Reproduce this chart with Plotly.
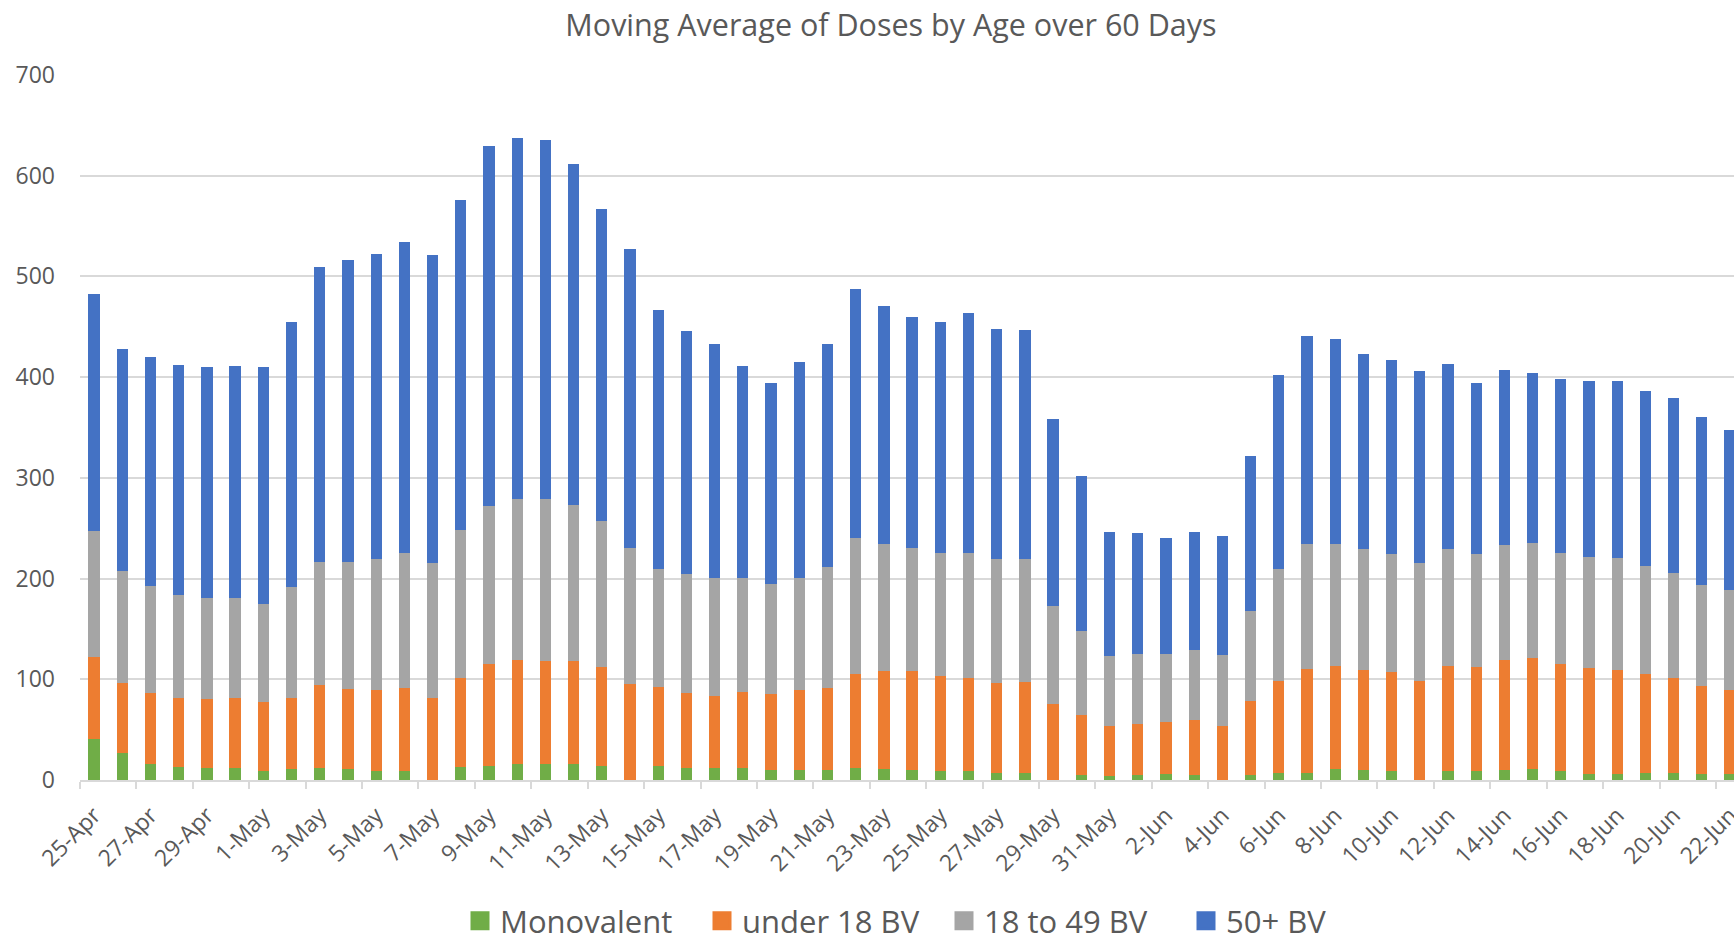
import plotly.graph_objects as go

dates = ["25-Apr", "26-Apr", "27-Apr", "28-Apr", "29-Apr", "30-Apr",
         "1-May", "2-May", "3-May", "4-May", "5-May", "6-May", "7-May", "8-May", "9-May", "10-May",
         "11-May", "12-May", "13-May", "14-May", "15-May", "16-May", "17-May", "18-May", "19-May",
         "20-May", "21-May", "22-May", "23-May", "24-May", "25-May", "26-May", "27-May", "28-May",
         "29-May", "30-May", "31-May",
         "1-Jun", "2-Jun", "3-Jun", "4-Jun", "5-Jun", "6-Jun", "7-Jun", "8-Jun", "9-Jun", "10-Jun",
         "11-Jun", "12-Jun", "13-Jun", "14-Jun", "15-Jun", "16-Jun", "17-Jun", "18-Jun", "19-Jun",
         "20-Jun", "21-Jun", "22-Jun"]

monovalent = [41, 27, 16, 13, 12, 12, 9, 11, 12, 11, 9, 9, 0, 13, 14, 16, 16, 16, 14, 0,
              14, 12, 12, 12, 10, 10, 10, 12, 11, 10, 9, 9, 7, 7, 0, 5, 4, 5, 6, 5,
              0, 5, 7, 7, 11, 10, 9, 0, 9, 9, 10, 11, 9, 6, 6, 7, 7, 6, 6]

under18 = [81, 69, 70, 68, 68, 69, 68, 70, 82, 79, 80, 82, 81, 88, 101, 103, 102, 102, 98, 95,
           78, 74, 71, 75, 75, 79, 81, 93, 97, 98, 94, 92, 89, 90, 75, 60, 50, 51, 52, 55,
           54, 73, 91, 103, 102, 99, 98, 98, 104, 103, 109, 110, 106, 105, 103, 98, 94, 87, 83]

age18to49 = [125, 112, 107, 103, 101, 100, 98, 111, 122, 126, 130, 134, 134, 147, 157, 160, 161, 155, 145, 135,
             118, 119, 118, 114, 110, 112, 120, 135, 126, 122, 122, 124, 123, 122, 98, 83, 69, 69, 67, 69,
             70, 90, 112, 124, 121, 120, 117, 117, 116, 112, 114, 114, 110, 110, 111, 107, 105, 101, 100]

age50plus = [236, 220, 227, 228, 229, 230, 235, 263, 293, 300, 303, 309, 306, 328, 358, 358, 356, 339, 310, 297,
             257, 241, 232, 210, 199, 214, 222, 248, 237, 230, 230, 239, 229, 228, 185, 154, 123, 120, 115, 117,
             118, 154, 192, 207, 204, 194, 193, 191, 184, 170, 174, 169, 173, 175, 176, 174, 173, 166, 159]

series_names = ["Monovalent", "under 18 BV", "18 to 49 BV", "50+ BV"]
series_values = [monovalent, under18, age18to49, age50plus]
colors = ["#70AD47", "#ED7D31", "#A5A5A5", "#4472C4"]

TXT = "#595959"
GRID = "#D9D9D9"
FONT = "Open Sans"

fig = go.Figure()
for name, vals, col in zip(series_names, series_values, colors):
    fig.add_trace(go.Bar(x=dates, y=vals, name=name, marker=dict(color=col, line=dict(width=0)),
                         showlegend=False))
# legend entries with larger square swatches
for name, col in zip(series_names, colors):
    fig.add_trace(go.Scatter(x=[None], y=[None], mode="markers", name=name,
                             marker=dict(symbol="square", size=16, color=col,
                                         line=dict(width=3, color=col))))

W, H = 1734, 933
L, R, T, B = 80, 0, 75, 153

fig.update_layout(
    width=W, height=H,
    margin=dict(l=L, r=R, t=T, b=B, pad=0, autoexpand=False),
    barmode="stack",
    bargap=0.6,
    plot_bgcolor="white",
    paper_bgcolor="white",
    font=dict(family=FONT, color=TXT),
    title=dict(text="Moving Average of Doses by Age over 60 Days",
               font=dict(family=FONT, size=30.5, color=TXT),
               x=891 / W, xref="container", xanchor="center",
               y=1 - 25 / H, yref="container", yanchor="middle"),
    legend=dict(orientation="h", x=(460 - L) / (W - L - R), xanchor="left",
                y=-(921 - 780) / (H - T - B), yanchor="middle",
                font=dict(family=FONT, size=31, color=TXT),
                entrywidth=197, traceorder="normal", itemsizing="trace",
                bgcolor="rgba(0,0,0,0)"),
    showlegend=True,
)

fig.update_xaxes(
    type="category",
    range=[-0.5, 58.14],
    tickmode="linear", tick0=0, dtick=2,
    tickson="boundaries",
    ticks="outside", ticklen=7, tickwidth=1.5, tickcolor=GRID,
    showline=True, linecolor=GRID, linewidth=1.5,
    showgrid=False,
    tickangle=-45,
    ticklabelstandoff=11,
    tickfont=dict(family=FONT, size=23, color=TXT),
)
fig.update_yaxes(
    range=[0, 700], dtick=100,
    showgrid=True, gridcolor=GRID, gridwidth=1.5,
    zeroline=False, showline=False,
    ticks="", ticklabelstandoff=24,
    tickfont=dict(family=FONT, size=23, color=TXT),
)

fig.write_html("out.html", config={"displayModeBar": False},
               post_script="document.body.style.margin='0';")
